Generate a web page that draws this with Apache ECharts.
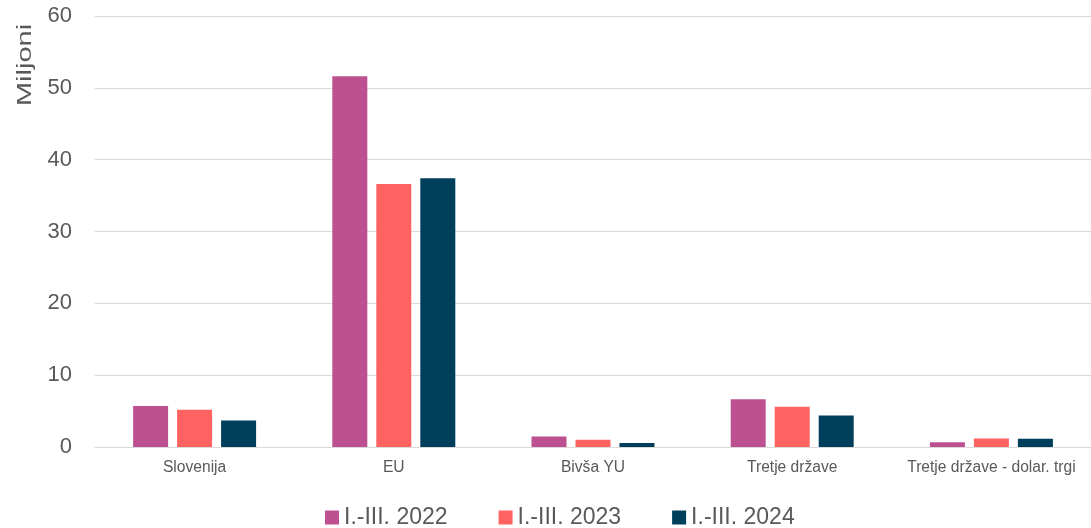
<!DOCTYPE html>
<html><head><meta charset="utf-8">
<script src="https://cdn.jsdelivr.net/npm/echarts@6/dist/echarts.min.js"></script>
<style>html,body{margin:0;padding:0;background:#fff}#c{width:1091px;height:528px}</style>
</head><body><div id="c"></div>
<script>
const categories = ['Slovenija', 'EU', 'Bivša YU', 'Tretje države', 'Tretje države - dolar. trgi'];
const seriesNames = ['I.-III. 2022', 'I.-III. 2023', 'I.-III. 2024'];
const values2022 = [5.7, 51.6, 1.45, 6.65, 0.65];
const values2023 = [5.2, 36.6, 1.0, 5.6, 1.2];
const values2024 = [3.7, 37.4, 0.56, 4.4, 1.15];
const yTicks = [0, 10, 20, 30, 40, 50, 60];
const colors = ['#bc5090', '#ff6361', '#003f5c'];

const chart = echarts.init(document.getElementById('c'));
const font = 'Liberation Sans, Arial, sans-serif';
const data = [values2022, values2023, values2024];
chart.setOption({
  animation: false,
  textStyle: { fontFamily: font },
  grid: { left: 95, right: -3, top: 16, bottom: 81 },
  legend: {
    top: 501, left: 320,
    itemWidth: 14, itemHeight: 14, itemGap: 51,
    icon: 'rect',
    textStyle: { fontSize: 23, color: '#595959', fontFamily: font },
    data: seriesNames
  },
  graphic: [{
    type: 'text', x: 25, y: 65, rotation: Math.PI / 2, scaleX: 1.38,
    style: { text: 'Miljoni', fontSize: 21, fill: '#595959', fontFamily: font, align: 'center', verticalAlign: 'middle' }
  }],
  xAxis: {
    type: 'category', data: categories,
    axisLine: { lineStyle: { color: '#d9d9d9', width: 1 } },
    axisTick: { show: false },
    axisLabel: { interval: 0, fontSize: 15.6, color: '#595959', margin: 13, fontFamily: font }
  },
  yAxis: {
    type: 'value', min: yTicks[0], max: yTicks[yTicks.length - 1], interval: 10,
    axisLine: { show: false }, axisTick: { show: false },
    splitLine: { lineStyle: { color: '#d9d9d9', width: 1 } },
    axisLabel: { fontSize: 22, color: '#595959', margin: 23, fontFamily: font }
  },
  series: seriesNames.map((n, i) => ({
    name: n, type: 'bar', data: data[i],
    barWidth: 35, barGap: '25.7%',
    itemStyle: { color: colors[i] }
  }))
});
</script></body></html>
